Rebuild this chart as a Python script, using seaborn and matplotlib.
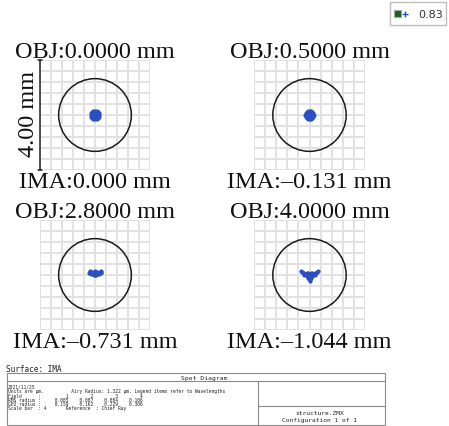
import numpy as np
import matplotlib
matplotlib.use("Agg")
import matplotlib.pyplot as plt
import seaborn as sns
import pandas as pd
from matplotlib.patches import Circle, Rectangle

# ---- data (units: um on the image plane) ----
obj_labels = ["OBJ:0.0000 mm", "OBJ:0.5000 mm", "OBJ:2.8000 mm", "OBJ:4.0000 mm"]
ima_labels = ["IMA:0.000 mm", "IMA:\u20130.131 mm", "IMA:\u20130.731 mm", "IMA:\u20131.044 mm"]
airy_radius = 1.322
scale_bar = 4.0
rms_radius = [0.085, 0.087, 0.084, 0.106]
geo_radius = [0.159, 0.162, 0.229, 0.306]
wavelength = 0.83

# ray intercepts (estimated from the blobs)
spot1_x = [0.16, 0.113, 0.0, -0.113, -0.16, -0.113, 0.0, 0.113,
           0.148, 0.061, -0.061, -0.148, -0.148, -0.061, 0.061, 0.148,
           0.09, 0.0, -0.09, 0.0, 0.064, -0.064, -0.064, 0.064]
spot1_y = [0.0, 0.113, 0.16, 0.113, 0.0, -0.113, -0.16, -0.113,
           0.061, 0.148, 0.148, 0.061, -0.061, -0.148, -0.148, -0.061,
           0.0, 0.09, 0.0, -0.09, 0.064, 0.064, -0.064, -0.064]
spot2_x = [0.15, 0.106, 0.0, -0.106, -0.15, -0.106, 0.0, 0.106,
           0.139, 0.057, -0.057, -0.139, -0.139, -0.057, 0.057, 0.139,
           0.085, 0.0, -0.085, 0.0, 0.06, -0.06, -0.06, 0.06]
spot2_y = [0.0, 0.106, 0.15, 0.106, 0.0, -0.106, -0.15, -0.106,
           0.057, 0.139, 0.139, 0.057, -0.057, -0.139, -0.139, -0.057,
           0.0, 0.085, 0.0, -0.085, 0.06, 0.06, -0.06, -0.06]
spot3_x = [-0.2, -0.12, 0.0, 0.12, 0.2,
           -0.235, -0.16, -0.08, 0.0, 0.08, 0.16, 0.235,
           -0.16, -0.08, 0.0, 0.08, 0.16,
           -0.04, 0.04, 0.0,
           -0.2, 0.2, -0.12, 0.12, -0.04, 0.04, -0.04, 0.04, -0.04, 0.04]
spot3_y = [0.14, 0.12, 0.13, 0.12, 0.14,
           0.09, 0.08, 0.08, 0.08, 0.08, 0.08, 0.09,
           0.04, 0.04, 0.04, 0.04, 0.04,
           0.0, 0.0, -0.01,
           0.11, 0.11, 0.06, 0.06, 0.11, 0.11, 0.06, 0.06, 0.02, 0.02]
spot4_x = [-0.3, -0.24, -0.18, 0.3, 0.24, 0.18,
           -0.1, 0.1, -0.12, 0.12, 0.0, -0.05, 0.05,
           -0.1, 0.0, 0.1, -0.06, 0.06, 0.0, 0.0, -0.2, 0.2,
           -0.27, 0.27, -0.21, 0.21, -0.15, 0.15, -0.06, 0.06,
           -0.05, 0.05, -0.03, 0.03, -0.1, 0.1, -0.03, 0.03]
spot4_y = [0.13, 0.08, 0.05, 0.13, 0.08, 0.05,
           0.08, 0.08, 0.02, 0.02, 0.03, 0.06, 0.06,
           -0.04, -0.04, -0.04, -0.1, -0.1, -0.15, -0.2, 0.01, 0.01,
           0.1, 0.1, 0.06, 0.06, 0.04, 0.04, 0.0, 0.0,
           -0.07, -0.07, -0.13, -0.13, 0.05, 0.05, 0.0, 0.0]
spots_x = [spot1_x, spot2_x, spot3_x, spot4_x]
spots_y = [spot1_y, spot2_y, spot3_y, spot4_y]

W, H = 449, 427
fig = plt.figure(figsize=(W / 100, H / 100), dpi=100)
sns.set_style("white")
serif = "Liberation Serif"
mono = "DejaVu Sans Mono"

# panel boxes in pixels (left, top, width, height)
boxes = [(40, 61, 110, 110), (254, 61, 111, 110), (40, 221, 110, 110), (254, 221, 111, 110)]
obj_base = [58, 58, 218, 218]
ima_base = [188, 188, 348, 348]

half = scale_bar / 2
ticks = np.linspace(-half, half, 11)
for i, (l, t, w, h) in enumerate(boxes):
    ax = fig.add_axes([l / W, (H - t - h) / H, w / W, h / H])
    for v in ticks:
        ax.axvline(v, color="#e2e2e2", lw=1.4, zorder=0)
        ax.axhline(v, color="#e2e2e2", lw=1.4, zorder=0)
    df = pd.DataFrame({"x": spots_x[i], "y": spots_y[i]})
    sns.scatterplot(data=df, x="x", y="y", ax=ax, color="#2b4fbe", s=9,
                    linewidth=0, zorder=3, legend=False)
    ax.add_patch(Circle((0, 0), airy_radius, fill=False, ec="#1a1a1a", lw=1.1, zorder=2))
    ax.set_xlim(-half, half)
    ax.set_ylim(-half, half)
    ax.set_xticks([])
    ax.set_yticks([])
    ax.set_xlabel("")
    ax.set_ylabel("")
    for s in ax.spines.values():
        s.set_visible(False)
    cx = (l + w / 2) / W
    fig.text(cx, (H - obj_base[i]) / H, obj_labels[i], ha="center", va="baseline",
             family=serif, fontsize=17.5, color="#111111")
    fig.text(cx, (H - ima_base[i]) / H, ima_labels[i], ha="center", va="baseline",
             family=serif, fontsize=17.5, color="#111111")
    if i == 0:
        ax.plot([-half, -half], [-half, half], color="#222222", lw=1.1, clip_on=False, zorder=4)
        for yy in (-half, half):
            ax.plot([-half - 0.06, -half + 0.06], [yy, yy], color="#222222", lw=1.1,
                    clip_on=False, zorder=4)
        fig.text(28 / W, (H - 114) / H, "%.2f mm" % scale_bar, rotation=90, ha="center",
                 va="center", family=serif, fontsize=17.5, color="#111111")

# overlay in pixel coordinates for the legend and the info table
ov = fig.add_axes([0, 0, 1, 1])
ov.set_xlim(0, W)
ov.set_ylim(H, 0)
ov.axis("off")
ov.patch.set_alpha(0)

ov.add_patch(Rectangle((390, 3), 56, 23, fill=False, ec="#bdbdbd", lw=1.0))
ov.add_patch(Rectangle((394, 11), 7, 7, fc="#1f5a2a", ec="#a8a8a8", lw=0.8))
ov.plot([404.5], [14.5], marker="+", color="#2b4fbe", ms=4, mew=1.0)
ov.text(431, 15, "%.2f" % wavelength, ha="center", va="center", family="DejaVu Sans",
        fontsize=8, color="#333333")

ov.text(6, 372, "Surface: IMA", ha="left", va="baseline", family=mono, fontsize=5.6, color="#222222")
line_c = "#8a8a8a"
ov.add_patch(Rectangle((7, 374), 378, 52, fill=False, ec=line_c, lw=0.8))
ov.plot([7, 385], [382, 382], color=line_c, lw=0.8)
ov.plot([258, 258], [382, 426], color=line_c, lw=0.8)
ov.plot([258, 385], [407, 407], color=line_c, lw=0.8)
ov.text(204, 378.5, "Spot Diagram", ha="center", va="center", family=mono, fontsize=4.6, color="#222222")

fields = "".join("%9d" % (k + 1) for k in range(4))
rms = "".join("%9.3f" % v for v in rms_radius)
geo = "".join("%9.3f" % v for v in geo_radius)
info = [
    "2021/11/25",
    "Units are \u00b5m.          Airy Radius: %.3f \u00b5m. Legend items refer to Wavelengths" % airy_radius,
    "Field      :" + " " + fields,
    "RMS radius :" + " " + rms,
    "GEO radius :" + " " + geo,
    "Scale bar  : %d       Reference  : Chief Ray" % scale_bar,
]
for k, s in enumerate(info):
    ov.text(8, 387.5 + k * 4.3, s, ha="left", va="center", family=mono, fontsize=3.35, color="#222222")
ov.text(320, 414, "structure.ZMX", ha="center", va="center", family=mono, fontsize=4.5, color="#222222")
ov.text(320, 421, "Configuration 1 of 1", ha="center", va="center", family=mono, fontsize=4.5, color="#222222")

fig.savefig("out.png", dpi=100)
